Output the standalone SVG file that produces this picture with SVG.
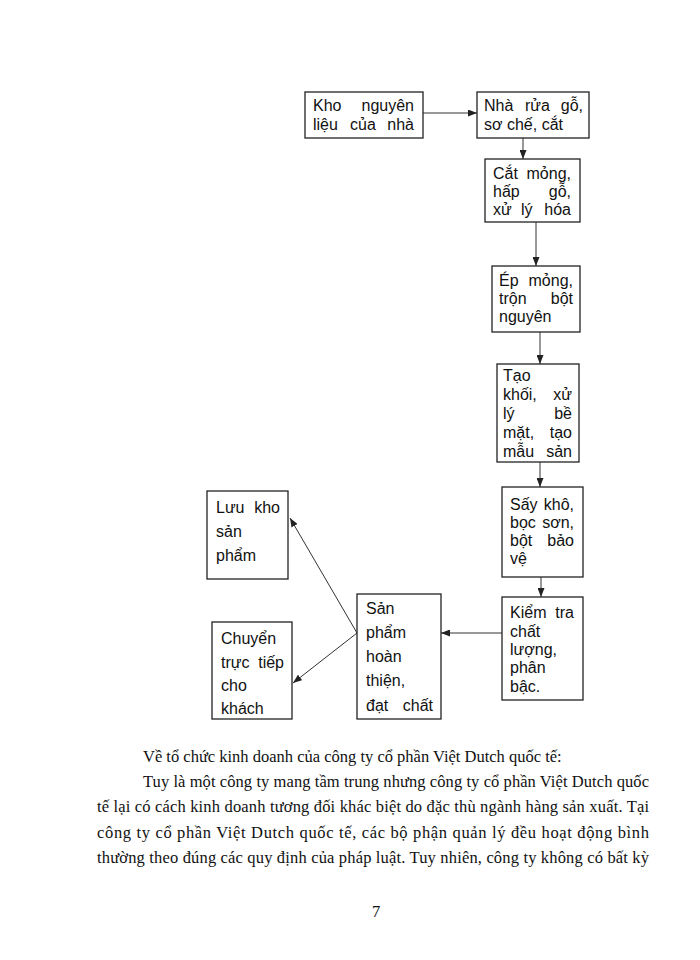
<svg xmlns="http://www.w3.org/2000/svg" width="700" height="960" viewBox="0 0 700 960">
<defs>
<style>
.box{fill:#fff;stroke:#222;stroke-width:1.3}
.t{font-family:"Liberation Sans",Arial,sans-serif;font-size:16px;fill:#111}
.e{text-anchor:end}
.p{font-family:"Liberation Serif","Times New Roman",serif;font-size:16.5px;fill:#111}
.c{stroke:#333;stroke-width:1;fill:none;marker-end:url(#ah)}
</style>
<marker id="ah" markerUnits="userSpaceOnUse" markerWidth="9" markerHeight="7" refX="9" refY="3.5" orient="auto">
<path d="M0,0 L9,3.5 L0,7 z" fill="#222"/>
</marker>
</defs>
<rect width="700" height="960" fill="#fff"/>

<g id="connectors">
<line class="c" x1="423" y1="113" x2="477" y2="113"/>
<line class="c" x1="523" y1="138" x2="523" y2="159"/>
<line class="c" x1="536" y1="222" x2="536" y2="266"/>
<line class="c" x1="540" y1="332" x2="540" y2="364"/>
<line class="c" x1="540" y1="462" x2="540" y2="487"/>
<line class="c" x1="541" y1="577" x2="541" y2="597"/>
<line class="c" x1="502" y1="633" x2="441" y2="633"/>
<line class="c" x1="357" y1="633" x2="290" y2="518"/>
<line class="c" x1="357" y1="633" x2="293" y2="683"/>
</g>

<g id="n1">
<rect class="box" x="305" y="92" width="118" height="46"/>
<text class="t" x="313" y="111">Kho</text><text class="t e" x="414" y="111">nguyên</text>
<text class="t" x="313" y="130">liệu</text><text class="t" x="350" y="130">của</text><text class="t e" x="414" y="130">nhà</text>
</g>

<g id="n2">
<rect class="box" x="477" y="92" width="112" height="46"/>
<text class="t" x="484" y="111">Nhà</text><text class="t" x="525" y="111">rửa</text><text class="t e" x="583" y="111">gỗ,</text>
<text class="t" x="484" y="130">sơ chế, cắt</text>
</g>

<g id="n3">
<rect class="box" x="485" y="159" width="95" height="63"/>
<text class="t" x="493" y="179">Cắt</text><text class="t e" x="571" y="179">mỏng,</text>
<text class="t" x="493" y="197">hấp</text><text class="t e" x="571" y="197">gỗ,</text>
<text class="t" x="493" y="215">xử</text><text class="t" x="521" y="215">lý</text><text class="t e" x="571" y="215">hóa</text>
</g>

<g id="n4">
<rect class="box" x="492" y="266" width="88" height="66"/>
<text class="t" x="499" y="286">Ép</text><text class="t e" x="573" y="286">mỏng,</text>
<text class="t" x="499" y="304">trộn</text><text class="t e" x="573" y="304">bột</text>
<text class="t" x="499" y="322">nguyên</text>
</g>

<g id="n5">
<rect class="box" x="497" y="364" width="82" height="98"/>
<text class="t" x="503" y="381">Tạo</text>
<text class="t" x="503" y="400">khối,</text><text class="t e" x="572" y="400">xử</text>
<text class="t" x="503" y="419">lý</text><text class="t e" x="572" y="419">bề</text>
<text class="t" x="503" y="438">mặt,</text><text class="t e" x="572" y="438">tạo</text>
<text class="t" x="503" y="457">mẫu</text><text class="t e" x="572" y="457">sản</text>
</g>

<g id="n6">
<rect class="box" x="502" y="487" width="81" height="90"/>
<text class="t" x="510" y="510">Sấy</text><text class="t e" x="574" y="510">khô,</text>
<text class="t" x="510" y="528">bọc</text><text class="t e" x="574" y="528">sơn,</text>
<text class="t" x="510" y="546">bột</text><text class="t e" x="574" y="546">bảo</text>
<text class="t" x="510" y="564">vệ</text>
</g>

<g id="n7">
<rect class="box" x="502" y="597" width="81" height="103"/>
<text class="t" x="510" y="618">Kiểm</text><text class="t e" x="574" y="618">tra</text>
<text class="t" x="510" y="637">chất</text>
<text class="t" x="510" y="655">lượng,</text>
<text class="t" x="510" y="673">phân</text>
<text class="t" x="510" y="692">bậc.</text>
</g>

<g id="n8">
<rect class="box" x="357" y="594" width="84" height="125"/>
<text class="t" x="366" y="614">Sản</text>
<text class="t" x="366" y="638">phẩm</text>
<text class="t" x="366" y="662">hoàn</text>
<text class="t" x="366" y="686">thiện,</text>
<text class="t" x="366" y="711">đạt</text><text class="t e" x="433" y="711">chất</text>
</g>

<g id="n9">
<rect class="box" x="207" y="491" width="81" height="88"/>
<text class="t" x="216" y="513">Lưu</text><text class="t e" x="280" y="513">kho</text>
<text class="t" x="216" y="537">sản</text>
<text class="t" x="216" y="561">phẩm</text>
</g>

<g id="n10">
<rect class="box" x="212" y="622" width="80" height="97"/>
<text class="t" x="221" y="644">Chuyển</text>
<text class="t" x="221" y="668">trực</text><text class="t e" x="284" y="668">tiếp</text>
<text class="t" x="221" y="691">cho</text>
<text class="t" x="221" y="714">khách</text>
</g>

<g id="paragraph">
<text class="p" x="143" y="762">Về tổ chức kinh doanh của công ty cổ phần Việt Dutch quốc tế:</text>
<text class="p" x="143" y="787" textLength="506" lengthAdjust="spacing">Tuy là một công ty mang tầm trung nhưng công ty cổ phần Việt Dutch quốc</text>
<text class="p" x="97" y="812" textLength="552" lengthAdjust="spacing">tế lại có cách kinh doanh tương đối khác biệt do đặc thù ngành hàng sản xuất. Tại</text>
<text class="p" x="97" y="838" textLength="552" lengthAdjust="spacing">công ty cổ phần Việt Dutch quốc tế, các bộ phận quản lý đều hoạt động bình</text>
<text class="p" x="97" y="863" textLength="552" lengthAdjust="spacing">thường theo đúng các quy định của pháp luật. Tuy nhiên, công ty không có bất kỳ</text>
<text class="p" x="372" y="917">7</text>
</g>
</svg>
